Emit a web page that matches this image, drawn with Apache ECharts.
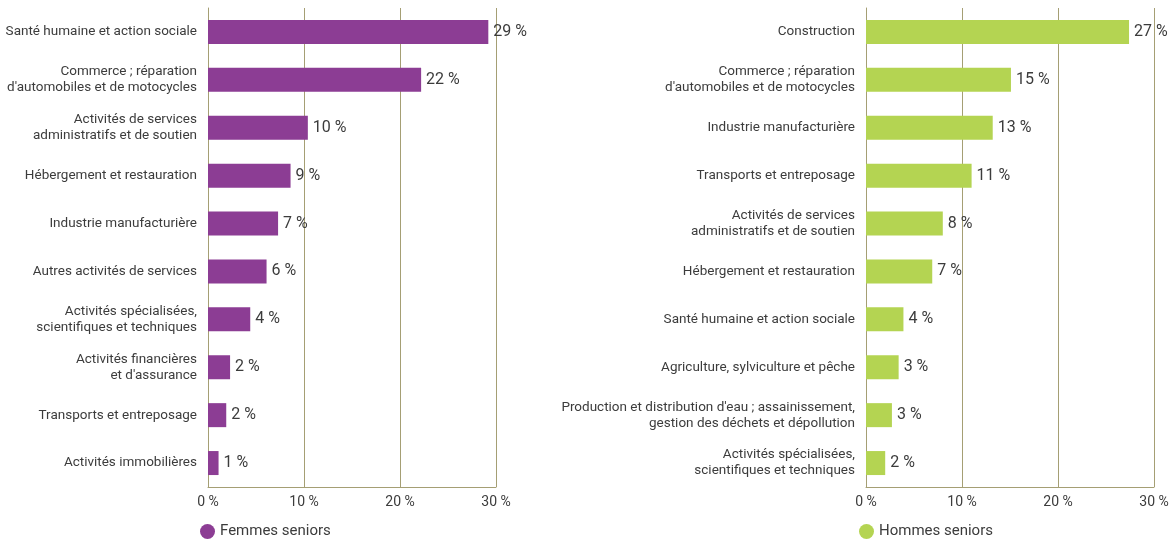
<!DOCTYPE html>
<html>
<head>
<meta charset="utf-8">
<script src="https://cdn.jsdelivr.net/npm/echarts@6/dist/echarts.min.js"></script>
<style>
  html, body { margin: 0; padding: 0; background: #ffffff; }
  #chart { width: 1172px; height: 540px; }
</style>
</head>
<body>
<div id="chart"></div>
<script>
// Sectors employing senior women, share of employment (%)
const femmesCategories = [
  "Santé humaine et action sociale",
  "Commerce ; réparation\nd'automobiles et de motocycles",
  "Activités de services\nadministratifs et de soutien",
  "Hébergement et restauration",
  "Industrie manufacturière",
  "Autres activités de services",
  "Activités spécialisées,\nscientifiques et techniques",
  "Activités financières\net d'assurance",
  "Transports et entreposage",
  "Activités immobilières"
];
const femmesValues = [29.2, 22.2, 10.4, 8.6, 7.3, 6.1, 4.4, 2.3, 1.9, 1.1];

// Sectors employing senior men, share of employment (%)
const hommesCategories = [
  "Construction",
  "Commerce ; réparation\nd'automobiles et de motocycles",
  "Industrie manufacturière",
  "Transports et entreposage",
  "Activités de services\nadministratifs et de soutien",
  "Hébergement et restauration",
  "Santé humaine et action sociale",
  "Agriculture, sylviculture et pêche",
  "Production et distribution d'eau ; assainissement,\ngestion des déchets et dépollution",
  "Activités spécialisées,\nscientifiques et techniques"
];
const hommesValues = [27.4, 15.1, 13.2, 11.0, 8.0, 6.9, 3.9, 3.4, 2.7, 2.0];

const axisTicks = [0, 10, 20, 30];

const FONT = "Roboto";
const TEXT = "#3c3c3c";
const LINE = "#a59f74";
const PURPLE = "#8c3d94";
const GREEN = "#b4d452";

function valueAxis(gridIndex) {
  return {
    type: "value",
    gridIndex: gridIndex,
    min: axisTicks[0],
    max: axisTicks[axisTicks.length - 1],
    interval: axisTicks[1] - axisTicks[0],
    axisLine: { show: true, lineStyle: { color: LINE, width: 1 } },
    axisTick: { show: false },
    splitLine: { show: true, lineStyle: { color: LINE, width: 1 } },
    axisLabel: {
      color: TEXT, fontFamily: FONT, fontSize: 14, margin: 8,
      formatter: v => v + " %"
    }
  };
}

function categoryAxis(gridIndex, cats) {
  return {
    type: "category",
    gridIndex: gridIndex,
    data: cats,
    inverse: true,
    axisLine: { show: true, lineStyle: { color: LINE, width: 1 } },
    axisTick: { show: false },
    splitLine: { show: false },
    axisLabel: {
      color: TEXT, fontFamily: FONT, fontSize: 13.5, lineHeight: 16,
      margin: 11, align: "right", padding: [5, 0, 0, 0]
    }
  };
}

function barSeries(name, idx, values, color) {
  return {
    name: name,
    type: "bar",
    xAxisIndex: idx,
    yAxisIndex: idx,
    data: values,
    barWidth: 24,
    itemStyle: { color: color },
    label: {
      show: true,
      position: "right",
      distance: 5,
      color: TEXT,
      fontFamily: FONT,
      fontSize: 16,
      formatter: p => Math.round(p.value) + " %"
    },
    emphasis: { disabled: true },
    silent: true
  };
}

const chart = echarts.init(document.getElementById("chart"), null, { renderer: "canvas" });
chart.setOption({
  animation: false,
  backgroundColor: "#ffffff",
  textStyle: { fontFamily: FONT },
  grid: [
    { left: 208, right: 676, top: 8, bottom: 53 },
    { left: 866, right: 18, top: 8, bottom: 53 }
  ],
  legend: [
    {
      data: ["Femmes seniors"], left: 195, top: 519,
      icon: "circle", itemWidth: 15, itemHeight: 15, itemGap: 6,
      textStyle: { color: TEXT, fontFamily: FONT, fontSize: 15 },
      selectedMode: false
    },
    {
      data: ["Hommes seniors"], left: 854, top: 519,
      icon: "circle", itemWidth: 15, itemHeight: 15, itemGap: 6,
      textStyle: { color: TEXT, fontFamily: FONT, fontSize: 15 },
      selectedMode: false
    }
  ],
  xAxis: [valueAxis(0), valueAxis(1)],
  yAxis: [categoryAxis(0, femmesCategories), categoryAxis(1, hommesCategories)],
  series: [
    barSeries("Femmes seniors", 0, femmesValues, PURPLE),
    barSeries("Hommes seniors", 1, hommesValues, GREEN)
  ]
});
</script>
</body>
</html>
